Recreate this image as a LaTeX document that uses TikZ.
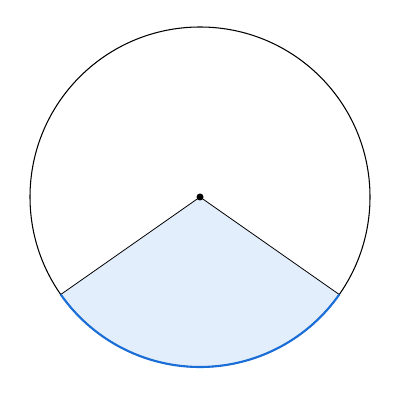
\documentclass[tikz,border=0pt]{standalone}
\usetikzlibrary{calc}
\definecolor{arcblue}{HTML}{1A6ED8}
\definecolor{sectorfill}{HTML}{E3EEFC}
\begin{document}
\begin{tikzpicture}[scale=.5]
      \useasboundingbox (0,0) rectangle (16,16);
      \coordinate(O) at (8,8.12);
      \coordinate(A) at ($(O)+(215:6.8)$);
      \coordinate(B) at ($(O)+(325:6.8)$);
      \fill[color=sectorfill](O)--(A) arc[start angle=215,end angle=325,radius=6.8]--cycle;
      \draw[line width=.6pt](O) circle[radius=6.8];
      \draw[line width=.45pt](A)--(O)--(B);
      \draw[color=arcblue,line width=1.2pt](A) arc[start angle=215,end angle=325,radius=6.8];
      \fill(O) circle[radius=.14];
    \end{tikzpicture}
\end{document}
